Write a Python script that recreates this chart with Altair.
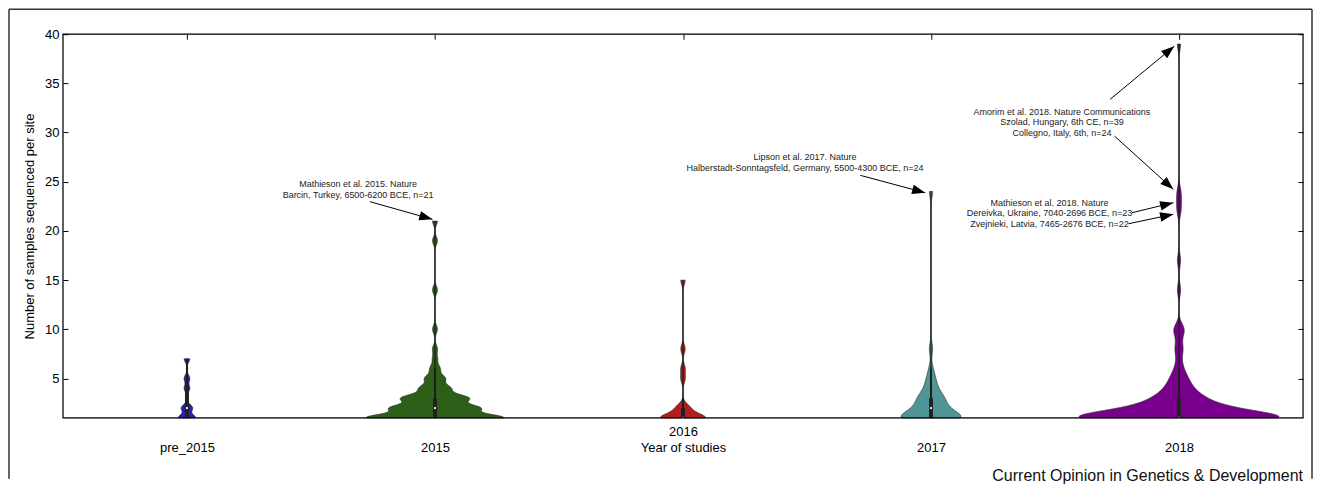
import math
import altair as alt
import pandas as pd

# ---------------- data ----------------
CATEGORIES = ["pre_2015", "2015", "2016", "2017", "2018"]
COLORS = ["#2a1fb0", "#2d5f19", "#b01e1e", "#509696", "#78008c"]

# number of samples sequenced per site (value) and how many sites have it (count)
PRE2015_VALUES = [1, 2, 4, 5, 7]
PRE2015_COUNTS = [3, 2, 1, 1, 1]
Y2015_VALUES = [1, 2, 3, 4, 5, 6, 7, 8, 10, 14, 19, 21]
Y2015_COUNTS = [27, 17, 13, 6, 4, 2, 1, 1, 1, 1, 1, 1]
Y2016_VALUES = [1, 2, 5, 6, 8, 15]
Y2016_COUNTS = [10, 3, 1, 1, 1, 1]
Y2017_VALUES = [1, 2, 3, 4, 5, 6, 8, 24]
Y2017_COUNTS = [16, 7, 6, 3, 2, 1, 1, 1]
Y2018_VALUES = [1, 2, 3, 4, 5, 6, 7, 8, 9, 10, 14, 17, 22, 23, 24, 39]
Y2018_COUNTS = [57, 20, 11, 6, 4, 2, 1, 2, 1, 3, 1, 1, 1, 1, 1, 1]

BANDWIDTHS = [0.35, 0.4, 0.45, 0.6, 0.63]

Y_TICKS = [5, 10, 15, 20, 25, 30, 35, 40]
X_TICKS = [0, 1, 2, 3, 4]

# annotation text lines (x in category units, y in samples)
ANN_TEXT = [
    "Mathieson et al. 2015. Nature",
    "Barcin, Turkey, 6500-6200 BCE, n=21",
    "Lipson et al. 2017. Nature",
    "Halberstadt-Sonntagsfeld, Germany, 5500-4300 BCE, n=24",
    "Amorim et al. 2018. Nature Communications",
    "Szolad, Hungary, 6th CE, n=39",
    "Collegno, Italy, 6th, n=24",
    "Mathieson et al. 2018. Nature",
    "Dereivka, Ukraine, 7040-2696 BCE, n=23",
    "Zvejnieki, Latvia, 7465-2676 BCE, n=22",
]
ANN_U = [0.690, 0.690, 2.492, 2.492, 3.528, 3.528, 3.528, 3.478, 3.478, 3.478]
ANN_V = [24.77, 23.65, 27.54, 26.42, 32.11, 31.09, 29.98, 22.87, 21.85, 20.73]

ARROW_TAIL_U = [0.738, 2.715, 3.722, 3.740, 3.810, 3.796]
ARROW_TAIL_V = [22.97, 25.65, 33.37, 29.64, 21.85, 20.73]
ARROW_HEAD_U = [0.990, 2.977, 3.981, 3.977, 3.977, 3.977]
ARROW_HEAD_V = [21.18, 23.88, 38.78, 24.23, 22.87, 21.69]

# ---------------- layout ----------------
W, H = 1241, 384
X_DOMAIN = [-0.5, 4.5]
Y_DOMAIN = [1, 40]
WIDTH_SCALE = 0.01  # category units per (sites / unit) of density
FONT = "Liberation Sans"

values_lists = [PRE2015_VALUES, Y2015_VALUES, Y2016_VALUES, Y2017_VALUES, Y2018_VALUES]
counts_lists = [PRE2015_COUNTS, Y2015_COUNTS, Y2016_COUNTS, Y2017_COUNTS, Y2018_COUNTS]

rows = []
for i, (vals, cnts) in enumerate(zip(values_lists, counts_lists)):
    for v, c in zip(vals, cnts):
        for _ in range(c):
            rows.append({"cat": CATEGORIES[i], "idx": i, "n": v})
sites = pd.DataFrame(rows)

xscale = alt.Scale(domain=X_DOMAIN, nice=False, zero=False)
yscale = alt.Scale(domain=Y_DOMAIN, nice=False, zero=False)

label_expr = "[" + ",".join("'%s'" % c for c in CATEGORIES) + "][datum.value]"

bottom_axis = alt.Axis(
    values=X_TICKS, labelExpr=label_expr, orient="bottom", offset=-5, tickSize=5,
    domain=False, grid=False, labelFontSize=13, labelFont=FONT, labelColor="black",
    labelPadding={"condition": {"test": "datum.value == 2", "value": 8}, "value": 24},
    title="Year of studies", titleFontSize=13, titleFont=FONT, titleFontWeight="normal",
    titleColor="black", titleY=35, titleBaseline="middle", tickColor="black",
    labelFlush=False, labelOverlap=False,
)
left_axis = alt.Axis(
    values=Y_TICKS, orient="left", offset=-5, tickSize=5, domain=False, grid=False,
    labelFontSize=13, labelFont=FONT, labelColor="black", labelPadding=4,
    title="Number of samples sequenced per site", titleFontSize=13, titleFont=FONT,
    titleFontWeight="normal", titleColor="black", titlePadding=8, tickColor="black",
    labelFlush=False, labelOverlap=False,
)
top_axis = alt.Axis(values=X_TICKS, orient="top", offset=-5, tickSize=5, domain=False,
                    grid=False, labels=False, title=None, tickColor="black")
right_axis = alt.Axis(values=Y_TICKS, orient="right", offset=-5, tickSize=5, domain=False,
                      grid=False, labels=False, title=None, tickColor="black")

layers = []

# violins
for i in range(len(CATEGORIES)):
    vmax = max(values_lists[i])
    v = (
        alt.Chart(sites)
        .transform_filter(alt.datum.idx == i)
        .transform_density("n", as_=["value", "density"], bandwidth=BANDWIDTHS[i],
                           extent=[1, vmax], steps=500, counts=True)
        .transform_calculate(lo=f"{i} - datum.density * {WIDTH_SCALE}",
                             hi=f"{i} + datum.density * {WIDTH_SCALE}")
        .mark_area(orient="horizontal", fill=COLORS[i], stroke="#1e1e1e", strokeWidth=0.6,
                   fillOpacity=1)
        .encode(
            y=alt.Y("value:Q", scale=yscale, axis=None),
            x=alt.X("lo:Q", scale=xscale, axis=None),
            x2="hi:Q",
        )
    )
    layers.append(v)

stats = alt.Chart(sites).transform_aggregate(
    lo="min(n)", hi="max(n)", q1="q1(n)", q3="q3(n)", med="median(n)", groupby=["idx"]
).transform_calculate(
    uw="min(datum.hi, floor(datum.q3 + 1.5 * (datum.q3 - datum.q1)))"
)

range_line = stats.mark_rule(color="#1e1e1e", strokeWidth=1.3).encode(
    x=alt.X("idx:Q", scale=xscale, axis=None),
    y=alt.Y("lo:Q", scale=yscale, axis=None),
    y2="hi:Q",
)
whisker = stats.mark_rule(color="#1e1e1e", strokeWidth=2).encode(
    x=alt.X("idx:Q", scale=xscale, axis=None),
    y=alt.Y("lo:Q", scale=yscale, axis=None),
    y2="uw:Q",
)
box = stats.mark_rule(color="#222222", strokeWidth=4).encode(
    x=alt.X("idx:Q", scale=xscale, axis=None),
    y=alt.Y("q1:Q", scale=yscale, axis=None),
    y2="q3:Q",
)
median = stats.mark_point(filled=True, color="white", size=5, opacity=1).encode(
    x=alt.X("idx:Q", scale=xscale, axis=None),
    y=alt.Y("med:Q", scale=yscale, axis=None),
)
layers += [range_line, whisker, box, median]

# annotations
ann = pd.DataFrame({"t": ANN_TEXT, "u": ANN_U, "v": ANN_V})
ann_text = alt.Chart(ann).mark_text(fontSize=9, font=FONT, color="#222222",
                                    baseline="middle", align="center").encode(
    x=alt.X("u:Q", scale=xscale, axis=None),
    y=alt.Y("v:Q", scale=yscale, axis=None),
    text="t:N",
)


def px(u):
    return (u - X_DOMAIN[0]) / (X_DOMAIN[1] - X_DOMAIN[0]) * W


def py(v):
    return (Y_DOMAIN[1] - v) / (Y_DOMAIN[1] - Y_DOMAIN[0]) * H


angles = []
for tu, tv, hu, hv in zip(ARROW_TAIL_U, ARROW_TAIL_V, ARROW_HEAD_U, ARROW_HEAD_V):
    dx = px(hu) - px(tu)
    dy = py(hv) - py(tv)
    angles.append(math.degrees(math.atan2(dx, -dy)) % 360)

arrows = pd.DataFrame({"tu": ARROW_TAIL_U, "tv": ARROW_TAIL_V,
                       "hu": ARROW_HEAD_U, "hv": ARROW_HEAD_V, "ang": angles})
arrow_lines = alt.Chart(arrows).mark_rule(color="black", strokeWidth=1).encode(
    x=alt.X("tu:Q", scale=xscale, axis=None),
    y=alt.Y("tv:Q", scale=yscale, axis=None),
    x2="hu:Q",
    y2="hv:Q",
)
arrow_heads = alt.Chart(arrows).mark_point(
    shape="M0,0L-0.36,1L0.36,1Z", filled=True, color="black", size=700, opacity=1,
    strokeWidth=0,
).encode(
    x=alt.X("hu:Q", scale=xscale, axis=None),
    y=alt.Y("hv:Q", scale=yscale, axis=None),
    angle=alt.Angle("ang:Q", scale=None),
)
layers += [ann_text, arrow_lines, arrow_heads]

one = pd.DataFrame({"a": [0]})
plot_frame = alt.Chart(one).mark_rect(filled=False, color="black", strokeWidth=1.2).encode(
    x=alt.value(0), x2=alt.value(W), y=alt.value(0), y2=alt.value(H)
)
fig_left = alt.Chart(one).mark_rule(color="#333333", strokeWidth=1.5).encode(
    x=alt.value(-54), y=alt.value(-25), y2=alt.value(445)
)
fig_top = alt.Chart(one).mark_rule(color="#333333", strokeWidth=1.5).encode(
    x=alt.value(-54), x2=alt.value(1250), y=alt.value(-25)
)
fig_right = alt.Chart(one).mark_rule(color="#333333", strokeWidth=1.5).encode(
    x=alt.value(1250), y=alt.value(-25), y2=alt.value(445)
)
credit = alt.Chart(one).mark_text(
    text="Current Opinion in Genetics & Development", fontSize=16, font=FONT,
    color="#111111", align="right", baseline="middle",
).encode(x=alt.value(1241), y=alt.value(442))
layers += [plot_frame, fig_left, fig_top, fig_right, credit]

inner = alt.layer(*layers)

carrier = pd.DataFrame({"u": [0.0], "v": [5.0]})
axes_bl = alt.Chart(carrier).mark_point(opacity=0).encode(
    x=alt.X("u:Q", scale=xscale, axis=bottom_axis),
    y=alt.Y("v:Q", scale=yscale, axis=left_axis),
)
axes_tr = alt.Chart(carrier).mark_point(opacity=0).encode(
    x=alt.X("u:Q", scale=xscale, axis=top_axis),
    y=alt.Y("v:Q", scale=yscale, axis=right_axis),
)

chart = (
    alt.layer(axes_bl, inner, axes_tr)
    .resolve_scale(x="independent", y="independent")
    .properties(width=W, height=H, padding=0)
    .configure_view(stroke=None)
    .configure(background="white")
)

chart.save("out.html", embed_options={"renderer": "svg", "actions": False})
